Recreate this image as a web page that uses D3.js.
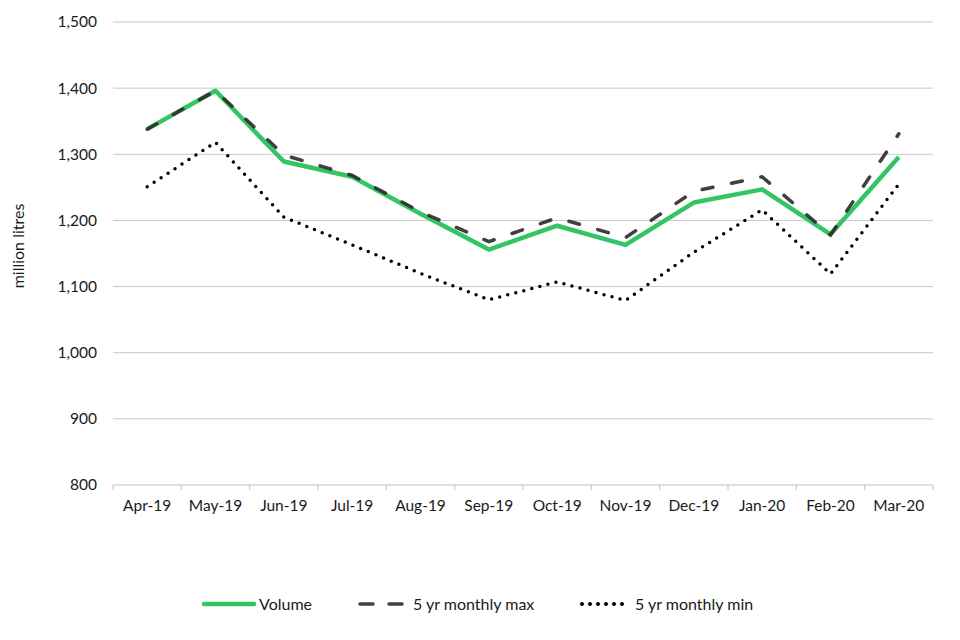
<!DOCTYPE html>
<html>
<head>
<meta charset="utf-8">
<script src="https://cdn.jsdelivr.net/npm/d3@7"></script>
<style>
  body { margin: 0; background: #fff; }
  text { font-family: Lato, "Open Sans", sans-serif; fill: #1a1a1a; }
</style>
</head>
<body>
<div class="canvas"></div>
<script>
// data
const months = ['Apr-19', 'May-19', 'Jun-19', 'Jul-19', 'Aug-19', 'Sep-19',
                'Oct-19', 'Nov-19', 'Dec-19', 'Jan-20', 'Feb-20', 'Mar-20'];
const volume = [1338, 1396, 1289, 1266, 1210, 1156, 1192, 1163, 1227, 1247, 1179, 1296];
const maxVals = [1338, 1396, 1299, 1268, 1213, 1168, 1204, 1174, 1244, 1266, 1178, 1331];
const minVals = [1251, 1318, 1205, 1163, 1120, 1080, 1107, 1079, 1152, 1216, 1119, 1255];
const yTicks = [800, 900, 1000, 1100, 1200, 1300, 1400, 1500];

const width = 960, height = 640;
const margin = {top: 22, right: 27, bottom: 155, left: 113};
const graphWidth = width - margin.left - margin.right;
const graphHeight = height - margin.top - margin.bottom;
const fontSize = '15.5px';

const svg = d3.select('.canvas')
    .append('svg')
    .attr('width', width)
    .attr('height', height);

const graph = svg.append('g')
    .attr('transform', `translate(${margin.left}, ${margin.top})`);

// scales
const x = d3.scaleBand().domain(months).range([0, graphWidth]);
const y = d3.scaleLinear().domain([800, 1500]).range([graphHeight, 0]);

// gridlines
graph.append('g')
    .selectAll('line')
    .data(yTicks.slice(1))
    .join('line')
    .attr('x1', 0)
    .attr('x2', graphWidth)
    .attr('y1', d => y(d))
    .attr('y2', d => y(d))
    .attr('stroke', '#c8c8c8')
    .attr('stroke-width', 1);

// y axis (labels only)
const yAxis = d3.axisLeft(y)
    .tickValues(yTicks)
    .tickSize(0)
    .tickPadding(16)
    .tickFormat(d3.format(','));

graph.append('g')
    .call(yAxis)
    .call(g => g.select('.domain').remove())
    .selectAll('text')
    .style('font-size', fontSize)
    .attr('fill', '#1a1a1a');

// x axis with ticks at band edges
const xAxisGroup = graph.append('g')
    .attr('transform', `translate(0, ${graphHeight})`);

xAxisGroup.append('line')
    .attr('x1', 0).attr('x2', graphWidth)
    .attr('stroke', '#c0c0c0').attr('stroke-width', 1);

xAxisGroup.selectAll('.edge')
    .data(months.concat(['end']))
    .join('line')
    .attr('class', 'edge')
    .attr('x1', (d, i) => i * x.step())
    .attr('x2', (d, i) => i * x.step())
    .attr('y1', 0).attr('y2', 5)
    .attr('stroke', '#c0c0c0');

xAxisGroup.selectAll('.lbl')
    .data(months)
    .join('text')
    .attr('class', 'lbl')
    .attr('x', d => x(d) + x.bandwidth() / 2)
    .attr('y', 26)
    .attr('text-anchor', 'middle')
    .style('font-size', fontSize)
    .text(d => d);

// y axis title
svg.append('text')
    .attr('transform', `translate(24, 246) rotate(-90)`)
    .attr('text-anchor', 'middle')
    .style('font-size', '16px')
    .text('million litres');

// lines
const line = d3.line()
    .x((d, i) => x(months[i]) + x.bandwidth() / 2)
    .y(d => y(d));

graph.append('path')
    .datum(volume)
    .attr('fill', 'none')
    .attr('stroke', '#34c463')
    .attr('stroke-width', 4.5)
    .attr('stroke-linejoin', 'round')
    .attr('d', line);

graph.append('path')
    .datum(maxVals)
    .attr('fill', 'none')
    .attr('stroke', '#2b2b2b')
    .attr('stroke-opacity', 0.9)
    .attr('stroke-width', 3.5)
    .attr('stroke-linecap', 'round')
    .attr('stroke-dasharray', '11 19')
    .attr('d', line);

graph.append('path')
    .datum(minVals)
    .attr('fill', 'none')
    .attr('stroke', '#000')
    .attr('stroke-width', 3.5)
    .attr('stroke-linecap', 'round')
    .attr('stroke-dasharray', '0 8.3')
    .attr('d', line);

// legend
const legendY = 604;
const legend = [
  {name: 'Volume', x: 204, len: 50, color: '#34c463', w: 4.5, dash: null, op: 1, gap: 55},
  {name: '5 yr monthly max', x: 360, len: 44, color: '#2b2b2b', w: 3.5, dash: '13 16', op: 0.9, gap: 53},
  {name: '5 yr monthly min', x: 582, len: 48, color: '#000', w: 4, dash: '0 8', op: 1, gap: 53}
];
const lg = svg.append('g');
legend.forEach(l => {
  lg.append('line')
    .attr('x1', l.x).attr('x2', l.x + l.len)
    .attr('y1', legendY).attr('y2', legendY)
    .attr('stroke', l.color)
    .attr('stroke-opacity', l.op)
    .attr('stroke-width', l.w)
    .attr('stroke-linecap', 'round')
    .attr('stroke-dasharray', l.dash);
  lg.append('text')
    .attr('x', l.x + l.gap)
    .attr('y', legendY)
    .attr('dy', '0.35em')
    .style('font-size', '16px')
    .text(l.name);
});
</script>
</body>
</html>
